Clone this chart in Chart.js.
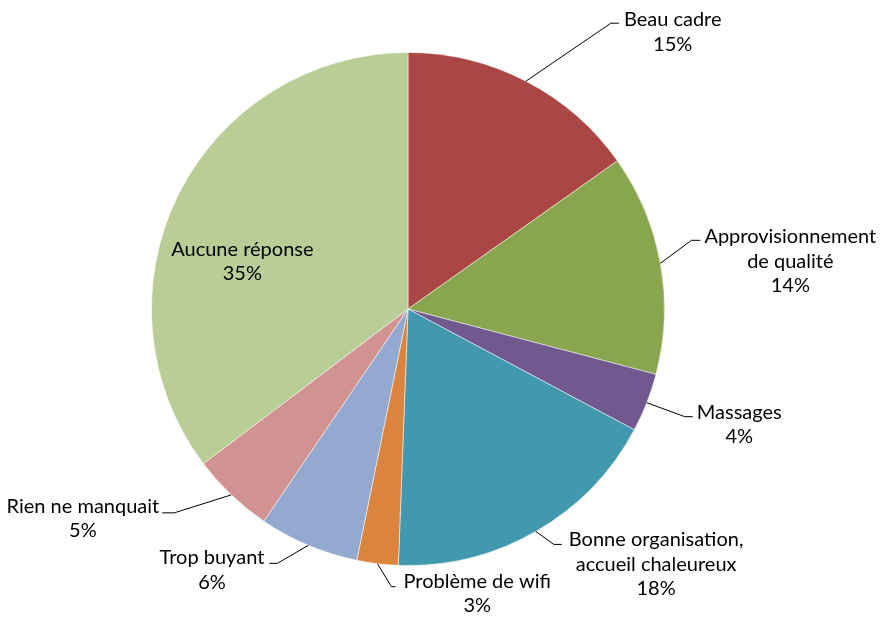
<!DOCTYPE html>
<html><head><meta charset="utf-8">
<script src="https://cdn.jsdelivr.net/npm/chart.js@4"></script>
<style>html,body{margin:0;padding:0;background:#fff}#wrap{width:880px;height:622px;position:relative}</style>
</head><body><div id="wrap"><canvas id="c"></canvas></div>
<script>
// ---- data ----
const categories = ['Beau cadre', 'Approvisionnement de qualité', 'Massages', 'Bonne organisation, accueil chaleureux', 'Problème de wifi', 'Trop buyant', 'Rien ne manquait', 'Aucune réponse'];
const values = [15.2, 13.9, 3.7, 17.8, 2.6, 6.3, 5.2, 35.3];
const labelLines = [['Beau cadre'], ['Approvisionnement', 'de qualité'], ['Massages'], ['Bonne organisation,', 'accueil chaleureux'], ['Problème de wifi'], ['Trop buyant'], ['Rien ne manquait'], ['Aucune réponse']];
const colors = ['#AA4643', '#89A54E', '#71588F', '#4198AF', '#DB843D', '#93A9CF', '#D19392', '#B9CD96'];

// ---- label layout (leader elbow offsets from slice edge, horizontal tail, gap, baseline shift) ----
const labelLayout = [
  {elbow: [85, -58], h: 8, gap: 5, base: 3},
  {elbow: [31, -23], h: 9, gap: 4, base: 3},
  {elbow: [38, 14], h: 8, gap: 4, base: 2},
  {elbow: [18, 13], h: 8, gap: 7, base: 2},
  {elbow: [14, 23], h: 4, gap: 8, base: 1},
  {elbow: [-31, 18], h: -8, gap: 5, base: 1},
  {elbow: [-57, 18], h: -12, gap: 3, base: 0},
  {inside: [64, 61]}
];
const FONT = '20px Lato';
const LINE_H = 24.5;

const labelPlugin = {
  id: 'pieLabels',
  afterDatasetsDraw(chart) {
    const ctx = chart.ctx;
    const meta = chart.getDatasetMeta(0);
    const total = values.reduce((a, b) => a + b, 0);
    ctx.save();
    ctx.font = FONT;
    ctx.fillStyle = '#000';
    ctx.strokeStyle = '#000';
    ctx.lineWidth = 1;
    ctx.textBaseline = 'alphabetic';
    ctx.textAlign = 'center';
    meta.data.forEach((arc, i) => {
      const p = arc.getProps(['x', 'y', 'startAngle', 'endAngle', 'outerRadius'], true);
      const mid = (p.startAngle + p.endAngle) / 2;
      const ax = p.x + Math.cos(mid) * p.outerRadius;
      const ay = p.y + Math.sin(mid) * p.outerRadius;
      const lines = labelLines[i].concat([Math.round(values[i] / total * 100) + '%']);
      const L = labelLayout[i];
      const w = Math.max(...lines.map(t => ctx.measureText(t).width));
      let cx, by;
      if (L.inside) {
        cx = ax + L.inside[0];
        by = ay + L.inside[1];
      } else {
        const ex = ax + L.elbow[0], ey = ay + L.elbow[1];
        const hx = ex + L.h;
        ctx.beginPath();
        ctx.moveTo(ax, ay);
        ctx.lineTo(ex, ey);
        ctx.lineTo(hx, ey);
        ctx.stroke();
        if (L.h > 0) cx = hx + L.gap + w / 2; else cx = hx - L.gap - w / 2;
        by = ey + L.base;
      }
      lines.forEach((t, k) => ctx.fillText(t, cx, by + k * LINE_H));
    });
    ctx.restore();
  }
};

new Chart(document.getElementById('c'), {
  type: 'pie',
  data: {
    labels: categories,
    datasets: [{
      data: values,
      backgroundColor: colors,
      borderColor: 'rgba(255,255,255,0.5)',
      borderWidth: 1,
      hoverOffset: 0,
      offset: 0
    }]
  },
  options: {
    responsive: true,
    maintainAspectRatio: false,
    animation: false,
    layout: {padding: {top: 52, bottom: 56, left: 151, right: 215}},
    plugins: {legend: {display: false}, tooltip: {enabled: false}}
  },
  plugins: [labelPlugin]
});
</script>
</body></html>
